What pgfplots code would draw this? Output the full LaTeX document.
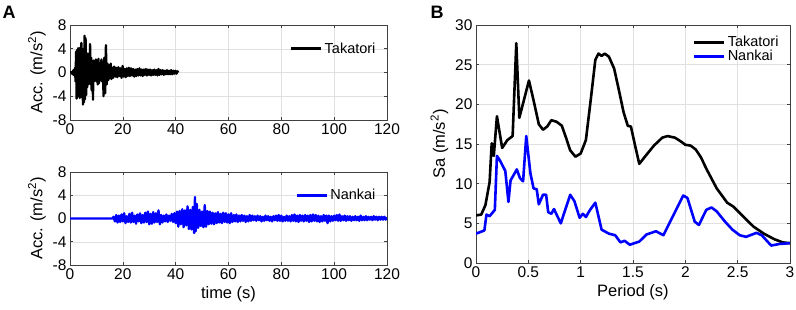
\documentclass[border=0pt]{standalone}
\usepackage{pgfplots}
\pgfplotsset{compat=1.18}
\usepackage{fontspec}
\setmainfont{Liberation Sans}
\begin{document}
\begin{tikzpicture}
\useasboundingbox (0pt,0pt) rectangle (796pt,310pt);
\pgfplotsset{
  every axis/.append style={
    scale only axis,
    axis line style={black!75, line width=0.5pt},
    grid=major,
    major grid style={black!12, line width=0.4pt},
    tick style={black!75, line width=0.5pt},
    major tick length=3pt,
    tick align=inside,
    /pgf/number format/assume math mode=true,
    tick label style={font=\fontsize{15.5}{17}\selectfont},
    label style={font=\fontsize{16.5}{19}\selectfont},
    legend style={draw=none, fill=none, font=\fontsize{14.5}{16}\selectfont, row sep=-2pt},
    legend cell align=left,
    legend image code/.code={\draw[#1, line width=3pt] (0pt,0pt) -- (30pt,0pt);},
    clip=true,
  },
}
% ---------- A top: Takatori ----------
\begin{axis}[
  at={(70pt,190pt)}, anchor=south west,
  width=317pt, height=95pt,
  xmin=0, xmax=120, ymin=-8, ymax=8,
  xtick={0,20,...,120}, ytick={-8,-4,0,4,8},
  ylabel={Acc. (m/s\textsuperscript{2})},
  legend style={at={(0.98,0.86)}, anchor=north east},
]
\addplot[black, line width=2.3pt, line join=round] coordinates {
(0,0) (0.5,0.1) (1,-0.3) (1.3,0.4) (1.6,-0.5) (1.9,0.8) (2.1,-1.5) (2.3,3.5) (2.5,-4.4) (2.7,3.8)
(2.9,-4.0) (3.1,4.1) (3.3,-3.0) (3.5,4.0) (3.7,-4.3) (3.9,4.2) (4.1,-3.5) (4.3,5.0) (4.5,-4.2) (4.7,3.0)
(4.9,-5.4) (5.1,4.0) (5.3,-5.0) (5.5,6.2) (5.7,-4.5) (5.9,5.8) (6.1,-3.8) (6.3,3.0) (6.5,-2.5) (6.7,3.2)
(6.9,-2.0) (7.1,2.5) (7.3,-1.8) (7.6,4.8) (7.8,-2.0) (8.0,2.5) (8.2,-3.0) (8.5,1.5) (8.7,-4.6) (8.9,2.0)
(9.1,-1.5) (9.3,1.8) (9.5,-1.2) (9.8,2.2) (10.0,-1.5) (10.3,1.2) (10.5,-2.0) (10.8,2.3) (11.0,-1.8) (11.3,1.5)
(11.6,-1.2) (11.9,2.2) (12.1,-1.5) (12.4,1.8) (12.7,-4.0) (13.0,2.5) (13.3,-3.5) (13.6,4.6) (13.9,-2.0) (14.2,1.5)
(14.5,-1.3) (14.8,1.2) (15.1,-1.0) (15.4,1.5) (15.7,-1.1) (16.0,0.8)
(16.3,-0.9) (16.7,1.0) (17.1,-0.7) (17.5,0.8) (17.9,-0.8) (18.3,0.9) (18.7,-0.6) (19.1,0.7) (19.5,-0.9) (19.9,1.1)
(20.3,-0.7) (20.7,0.6) (21.1,-0.8) (21.5,0.7) (21.9,-0.6) (22.3,0.8) (22.7,-0.6) (23.1,0.7) (23.5,-0.5) (23.9,0.6)
(24.3,-0.7) (24.7,0.5) (25.1,-0.6) (25.5,0.6) (25.9,-0.5) (26.3,0.7) (26.7,-0.5) (27.1,0.5) (27.5,-0.6) (27.9,0.5)
(28.3,-0.4) (28.7,0.6) (29.1,-0.5) (29.5,0.5) (29.9,-0.4) (30.3,0.5) (30.7,-0.5) (31.1,0.4) (31.5,-0.4) (31.9,0.5)
(32.3,-0.4) (32.7,0.4) (33.1,-0.5) (33.5,0.6) (33.9,-0.4) (34.3,0.4) (34.7,-0.3) (35.1,0.4) (35.5,-0.4) (35.9,0.3)
(36.3,-0.3) (36.7,0.4) (37.1,-0.3) (37.5,0.3) (37.9,-0.3) (38.3,0.4) (38.7,-0.3) (39.1,0.3) (39.5,-0.2) (39.9,0.3)
(40.3,-0.2) (40.7,0.2) (41,0)
};
\addlegendentry{Takatori}
\end{axis}
% ---------- A bottom: Nankai ----------
\begin{axis}[
  at={(70pt,45pt)}, anchor=south west,
  width=317pt, height=93pt,
  xmin=0, xmax=120, ymin=-8, ymax=8,
  xtick={0,20,...,120}, ytick={-8,-4,0,4,8},
  ylabel={Acc. (m/s\textsuperscript{2})},
  xlabel={time (s)},
  legend style={at={(0.98,0.86)}, anchor=north east},
]
\addplot[blue, line width=2.3pt, line join=round] coordinates {
(0,0) (16,0) (16.5,0.3) (17,-0.5) (17.5,0.6) (18,-0.7) (18.5,0.5) (19,-0.6) (19.5,0.7) (20,-0.5)
(20.5,0.9) (21,-0.8) (21.5,0.4) (22,-0.6) (22.5,0.8) (23,-0.7) (23.5,1.0) (24,-0.6) (24.5,0.5) (25,-0.9)
(25.5,0.7) (26,-0.5) (26.5,0.9) (27,-0.8) (27.5,0.6) (28,-0.7) (28.5,1.0) (29,-0.6) (29.5,1.2) (30,-1.0)
(30.5,0.8) (31,-0.9) (31.5,1.1) (32,-0.7) (32.5,0.9) (33,-0.6) (33.5,1.4) (34,-1.0) (34.5,0.6) (35,-0.7)
(35.5,0.5) (36,-0.5) (36.5,0.7) (37,-0.6) (37.5,0.5) (38,-0.4) (38.5,0.8) (39,-0.6) (39.5,0.9) (40,-0.8)
(40.5,1.2) (41,-1.4) (41.5,1.3) (42,-1.0) (42.5,1.6) (43,-1.5) (43.5,1.4) (44,-1.2) (44.5,2.1) (45,-1.8)
(45.5,1.5) (46,-1.9) (46.5,2.0) (47,-2.5) (47.3,3.7) (47.6,-2.2) (48,2.5) (48.5,-1.6) (49,1.5) (49.5,-1.3)
(50,1.2) (50.5,-1.5) (51,2.3) (51.5,-1.4) (52,1.3) (52.5,-1.0) (53,1.2) (53.5,-0.9) (54,1.0) (54.5,-1.0)
(55,0.9) (55.5,-0.8) (56,1.1) (56.5,-0.7) (57,0.8) (57.5,-0.8) (58,1.0) (58.5,-0.6) (59,0.9) (59.5,-0.7)
(60,0.7) (60.5,-0.8) (61,0.9) (61.5,-0.6) (62,0.6) (62.5,-0.5) (63,0.7) (63.5,-0.6) (64,0.5) (64.5,-0.5)
(65,0.6) (65.5,-0.4) (66,0.5) (66.5,-0.6) (67,0.4) (67.5,-0.5) (68,0.6) (68.5,-0.4) (69,0.5) (69.5,-0.3)
(70,0.4) (70.5,-0.4) (71,0.5) (71.5,-0.3) (72,0.4) (72.5,-0.5) (73,0.3) (73.5,-0.4) (74,0.5) (74.5,-0.3)
(75,0.4) (75.5,-0.4) (76,0.3) (76.5,-0.5) (77,0.4) (77.5,-0.3) (78,0.5) (78.5,-0.4) (79,0.6) (79.5,-0.4)
(80,0.5) (80.5,-0.5) (81,0.3) (81.5,-0.4) (82,0.5) (82.5,-0.4) (83,0.4) (83.5,-0.5) (84,0.6) (84.5,-0.4)
(85,0.7) (85.5,-0.5) (86,0.5) (86.5,-0.6) (87,0.6) (87.5,-0.4) (88,0.5) (88.5,-0.5) (89,0.6) (89.5,-0.4)
(90,0.5) (90.5,-0.6) (91,0.6) (91.5,-0.5) (92,0.7) (92.5,-0.4) (93,0.6) (93.5,-0.5) (94,0.5) (94.5,-0.6)
(95,0.4) (95.5,-0.5) (96,0.6) (96.5,-0.4) (97,0.5) (97.5,-0.8) (98,0.5) (98.5,-0.5) (99,0.4) (99.5,-0.4)
(100,0.5) (100.5,-0.3) (101,0.6) (101.5,-0.4) (102,0.7) (102.5,-0.4) (103,0.4) (103.5,-0.3) (104,0.5) (104.5,-0.4)
(105,0.4) (105.5,-0.3) (106,0.4) (106.5,-0.4) (107,0.3) (107.5,-0.3) (108,0.4) (108.5,-0.3) (109,0.3) (109.5,-0.4)
(110,0.5) (110.5,-0.3) (111,0.3) (111.5,-0.3) (112,0.4) (112.5,-0.3) (113,0.3) (113.5,-0.2) (114,0.3) (114.5,-0.3)
(115,0.4) (115.5,-0.2) (116,0.3) (116.5,-0.3) (117,0.3) (117.5,-0.2) (118,0.3) (118.5,-0.2) (119,0.3) (119.5,-0.2)
(120,0.2)
};
\addlegendentry{Nankai}
\end{axis}
% ---------- B: spectra ----------
\begin{axis}[
  at={(476pt,47pt)}, anchor=south west,
  width=314pt, height=238pt,
  xmin=0, xmax=3, ymin=0, ymax=30,
  xtick={0,0.5,...,3}, ytick={0,5,...,30},
  xticklabels={0,0.5,1,1.5,2,2.5,3},
  ylabel={Sa (m/s\textsuperscript{2})},
  xlabel={Period (s)},
  legend style={at={(0.98,0.97)}, anchor=north east},
]
\addplot[black, line width=2.6pt, line join=round] coordinates {
(0,6.0) (0.05,6.1) (0.09,7.3) (0.13,10.2) (0.15,15.1) (0.17,13.5) (0.2,18.5) (0.25,14.5) (0.3,15.5) (0.35,16)
(0.385,27.7) (0.414,18.3) (0.506,23) (0.55,20.5) (0.6,17.5) (0.64,16.8) (0.68,17.2) (0.72,18) (0.77,17.8) (0.82,17.3)
(0.86,15.8) (0.9,14.2) (0.95,13.4) (1.0,13.8) (1.05,15.5) (1.1,21) (1.14,25.6) (1.17,26.4) (1.2,26.1) (1.23,26.4)
(1.27,26) (1.32,24.5) (1.37,21.5) (1.41,19) (1.45,17.3) (1.48,17.2) (1.52,14.8) (1.56,12.5) (1.62,13.5) (1.7,14.8)
(1.78,15.8) (1.83,16) (1.9,15.8) (1.96,15.3) (2.0,14.9) (2.05,14.8) (2.1,14.3) (2.15,13.3) (2.2,11.9) (2.3,9.4)
(2.4,7.6) (2.46,7.1) (2.55,5.9) (2.65,4.6) (2.75,3.7) (2.85,3.0) (2.93,2.6) (3.0,2.5)
};
\addlegendentry{Takatori}
\addplot[blue, line width=2.6pt, line join=round] coordinates {
(0,3.7) (0.08,4.1) (0.1,6.1) (0.13,5.9) (0.18,6.7) (0.2,13.5) (0.23,12.9) (0.28,11.6) (0.31,7.7) (0.33,10.4)
(0.39,11.8) (0.42,10.7) (0.45,10.3) (0.48,16.0) (0.52,11.3) (0.55,9.4) (0.58,9.3) (0.6,7.4) (0.64,8.6) (0.67,8.6)
(0.69,6.4) (0.72,6.2) (0.745,6.8) (0.81,5.0) (0.9,8.6) (0.94,7.8) (0.99,5.7) (1.02,6.2) (1.05,5.8) (1.09,6.7)
(1.14,7.6) (1.2,4.2) (1.27,3.7) (1.33,3.5) (1.38,2.6) (1.42,2.8) (1.47,2.3) (1.56,2.7) (1.63,3.6) (1.72,4.0)
(1.79,3.5) (1.87,5.6) (1.98,8.5) (2.02,8.2) (2.09,5.2) (2.13,4.8) (2.2,6.7) (2.25,7.0) (2.3,6.5) (2.38,5.2)
(2.45,4.2) (2.52,3.5) (2.58,3.3) (2.68,3.8) (2.73,3.5) (2.82,2.2) (2.9,2.4) (3.0,2.5)
};
\addlegendentry{Nankai}
\end{axis}
\node[font=\bfseries\fontsize{18}{20}\selectfont] at (9pt,298pt) {A};
\node[font=\bfseries\fontsize{18}{20}\selectfont] at (437pt,298pt) {B};
\end{tikzpicture}
\end{document}
